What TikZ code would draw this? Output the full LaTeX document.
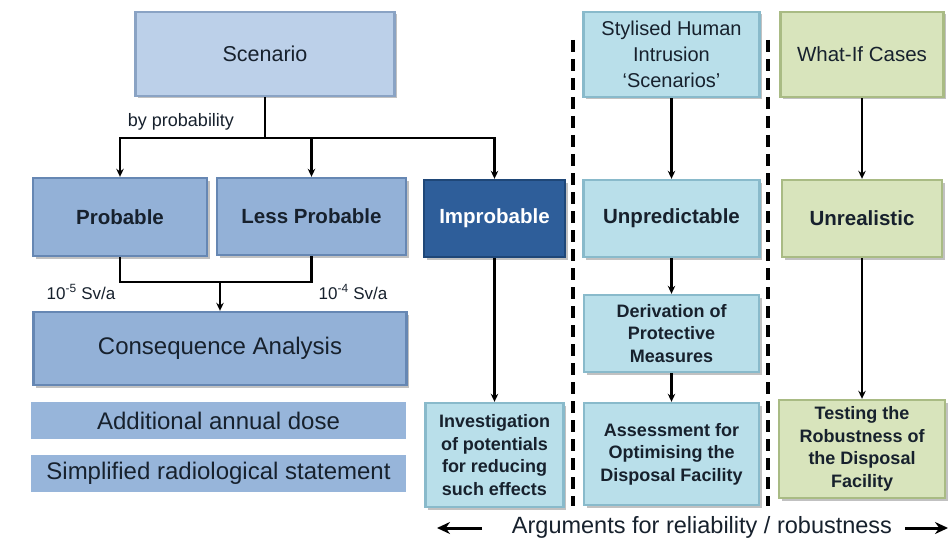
\documentclass[tikz,border=0pt]{standalone}
\usepackage{fontspec}
\setmainfont{Liberation Sans}
\usetikzlibrary{arrows.meta,shadows}

\definecolor{scenFill}{HTML}{BCD0E9}
\definecolor{scenEdge}{HTML}{8AA3C4}
\definecolor{medFill}{HTML}{93B1D7}
\definecolor{medEdge}{HTML}{6687B3}
\definecolor{flatFill}{HTML}{97B5DA}
\definecolor{darkFill}{HTML}{2E5E9A}
\definecolor{darkEdge}{HTML}{1F4778}
\definecolor{cyanFill}{HTML}{B9DFEA}
\definecolor{cyanEdge}{HTML}{89BACB}
\definecolor{greenFill}{HTML}{D8E4BC}
\definecolor{greenEdge}{HTML}{A9BB84}
\definecolor{ink}{HTML}{17212D}

\newcommand{\fs}[2]{\fontsize{#1}{#2}\selectfont}

\tikzset{
  every node/.style={text=ink, inner sep=0pt, align=center},
  panel/.style 2 args={rectangle, fill=#1, draw=#2, line width=2.4pt,
    drop shadow={shadow xshift=2.5pt, shadow yshift=-2.5pt, opacity=.4, fill=black!60}},
  scenbox/.style={panel={scenFill}{scenEdge}},
  medbox/.style={panel={medFill}{medEdge}},
  darkbox/.style={panel={darkFill}{darkEdge}, text=white},
  cyanbox/.style={panel={cyanFill}{cyanEdge}},
  greenbox/.style={panel={greenFill}{greenEdge}},
  flatbox/.style={rectangle, fill=flatFill},
  bigtxt/.style={font=\fs{21.5}{25}},
  headbold/.style={font=\bfseries\fs{20.5}{24}},
  smallbold/.style={font=\bfseries\fs{18}{22.5}},
  wide/.style={font=\fs{24}{28}},
  label/.style={font=\fs{18}{21}},
  arr/.style={line width=2.6pt, -{Stealth[length=8pt,width=7.5pt]}},
  link/.style={line width=2.6pt},
  divider/.style={line width=3.6pt, dash pattern=on 12pt off 7pt},
  capArrow/.style={line width=3pt, -{Stealth[length=13pt,width=12pt]}},
}

\begin{document}
\begin{tikzpicture}[x=1pt, y=-1pt]
\useasboundingbox[fill=white] (0,0) rectangle (949,540);

% left column: scenarios classified by probability
\node[scenbox, bigtxt, minimum width=259pt, minimum height=84pt] (scen) at (265,54) {Scenario};
\node[medbox, headbold, minimum width=174pt, minimum height=78pt] (prob) at (120,217) {Probable};
\node[medbox, headbold, minimum width=189pt, minimum height=77pt] (lprob) at (311.5,216.5) {Less Probable};
\node[darkbox, headbold, minimum width=141pt, minimum height=77pt] (impr) at (494.5,218.5) {Improbable};
\node[medbox, wide, minimum width=373pt, minimum height=73pt] (cons) at (220,348.5) {Consequence Analysis};
\node[flatbox, wide, minimum width=375pt, minimum height=37pt] (add) at (218.5,420.5) {Additional annual dose};
\node[flatbox, wide, minimum width=375pt, minimum height=37pt] (simp) at (218.5,473.5) {Simplified radiological statement};
\node[cyanbox, smallbold, minimum width=138pt, minimum height=104pt] (inv) at (494.5,455)
  {Investigation\\of potentials\\for reducing\\such effects};

% middle column: human intrusion
\node[cyanbox, font=\fs{20}{26}, minimum width=176pt, minimum height=85pt] (shi) at (671.5,54.5)
  {Stylised Human\\Intrusion\\`Scenarios'};
\node[cyanbox, headbold, minimum width=176pt, minimum height=77pt] (unp) at (671.5,218.5) {Unpredictable};
\node[cyanbox, smallbold, minimum width=175pt, minimum height=77pt] (der) at (671.5,333.5)
  {Derivation of\\Protective\\Measures};
\node[cyanbox, smallbold, minimum width=175pt, minimum height=102pt] (ass) at (671.5,454)
  {Assessment for\\Optimising the\\Disposal Facility};

% right column: what-if cases
\node[greenbox, font=\fs{20.5}{24}, minimum width=163pt, minimum height=85pt] (wif) at (862,54.5) {What-If Cases};
\node[greenbox, headbold, minimum width=160pt, minimum height=77pt] (unr) at (862,218.5) {Unrealistic};
\node[greenbox, smallbold, minimum width=166pt, minimum height=98pt] (tst) at (862,449)
  {Testing the\\Robustness of\\the Disposal\\Facility};

% labels
\node[label] (byprob) at (181,122) {by probability};
\node[font=\fs{17}{20}] (limA) at (81,292) {10\textsuperscript{-5} Sv/a};
\node[font=\fs{17}{20}] (limB) at (353,292) {10\textsuperscript{-4} Sv/a};
\node[font=\fs{23.5}{27}] (args) at (702,527) {Arguments for reliability / robustness};

% branching connectors
\coordinate (split) at (265,138);
\coordinate (join) at (220,282);
\draw[link] (scen) -- (split);
\draw[arr] (split) -| (prob);
\draw[arr] (split) -| (lprob);
\draw[arr] (split) -| (impr);
\draw[link] (prob) |- (join);
\draw[link] (lprob) |- (join);
\draw[arr] (join) -- (cons);
\draw[arr] (impr) -- (inv);

\draw[arr] (shi) -- (unp);
\draw[arr] (unp) -- (der);
\draw[arr] (der) -- (ass);

\draw[arr] (wif) -- (unr);
\draw[arr] (unr) -- (tst);

% dashed column dividers
\coordinate (d1t) at (573,40);
\coordinate (d1b) at (573,506);
\coordinate (d2t) at (768,40);
\coordinate (d2b) at (768,506);
\draw[divider] (d1t) -- (d1b);
\draw[divider] (d2t) -- (d2b);

% arrows around the bottom caption
\coordinate (argLs) at (482,528);
\coordinate (argL) at (437,528);
\coordinate (argRs) at (905,528);
\coordinate (argR) at (948,528);
\draw[capArrow] (argLs) -- (argL);
\draw[capArrow] (argRs) -- (argR);
\end{tikzpicture}
\end{document}
